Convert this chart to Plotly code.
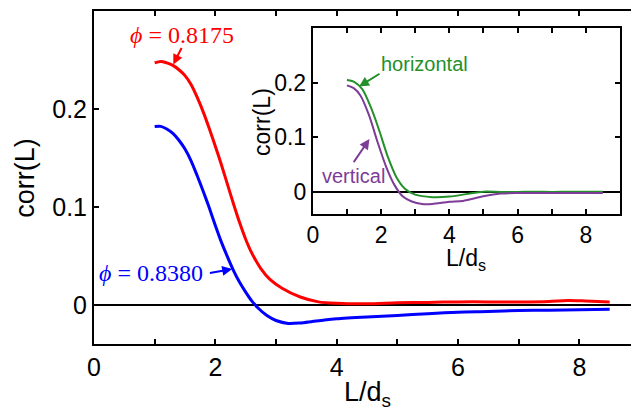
import plotly.graph_objects as go

# ---- main panel data ----
red_x = [1.0, 1.1, 1.2, 1.3, 1.4, 1.5, 1.6, 1.7, 1.8, 1.9, 2.0, 2.1, 2.2, 2.3, 2.4, 2.5, 2.6, 2.75, 2.9,
         3.1, 3.4, 3.7, 4.0, 4.5, 5.0, 5.5, 6.0, 6.5, 7.0, 7.5, 7.8, 8.1, 8.5]
red_y = [0.247, 0.2485, 0.247, 0.2445, 0.240, 0.234, 0.225, 0.212, 0.197, 0.180, 0.162, 0.143, 0.123,
         0.103, 0.084, 0.067, 0.053, 0.037, 0.026, 0.017, 0.008, 0.003, 0.0015, 0.001, 0.002, 0.0025,
         0.003, 0.003, 0.003, 0.0035, 0.0045, 0.004, 0.003]

blue_x = [1.0, 1.1, 1.2, 1.3, 1.4, 1.5, 1.6, 1.7, 1.8, 1.9, 2.0, 2.1, 2.2, 2.3, 2.4, 2.5, 2.6, 2.7, 2.85,
          3.0, 3.2, 3.4, 3.6, 3.8, 4.0, 4.5, 5.0, 5.5, 6.0, 6.5, 7.0, 7.5, 8.0, 8.5]
blue_y = [0.182, 0.1822, 0.1795, 0.175, 0.168, 0.159, 0.147, 0.132, 0.116, 0.099, 0.081, 0.064, 0.049,
          0.035, 0.023, 0.013, 0.004, -0.003, -0.011, -0.016, -0.019, -0.0185, -0.017, -0.0155, -0.0143,
          -0.0125, -0.011, -0.009, -0.0075, -0.0068, -0.0058, -0.0055, -0.005, -0.0045]

# ---- inset data ----
horiz_x = [1.0, 1.2, 1.45, 1.7, 1.95, 2.2, 2.45, 2.7, 3.0, 3.5, 4.0, 4.5, 5.0, 5.5, 6.0, 6.5, 7.0, 7.5, 8.0, 8.5]
horiz_y = [0.205, 0.202, 0.188, 0.155, 0.112, 0.064, 0.027, 0.006, -0.005, -0.0095, -0.0085, -0.004,
           0.0005, 0.0, 0.0, 0.0005, 0.0, 0.0005, 0.0005, 0.0005]

vert_x = [1.0, 1.2, 1.4, 1.65, 1.9, 2.15, 2.4, 2.65, 2.9, 3.2, 3.5, 4.0, 4.4, 5.0, 5.5, 6.0, 7.0, 8.0, 8.5]
vert_y = [0.195, 0.19, 0.176, 0.14, 0.091, 0.046, 0.012, -0.009, -0.0175, -0.022, -0.022, -0.018,
          -0.0165, -0.008, -0.003, -0.002, -0.002, -0.002, -0.002]

x_tickvals = [0, 1, 2, 3, 4, 5, 6, 7, 8, 9]
x_ticktext = ["0", "", "2", "", "4", "", "6", "", "8", ""]
y_tickvals = [0, 0.1, 0.2]
y_ticktext = ["0", "0.1", "0.2"]

SANS = "Liberation Sans"
SERIF = "Liberation Serif"
RED = "#ff0000"
BLUE = "#0000ff"
GREEN = "#23902a"
PURPLE = "#7d3c98"

fig = go.Figure()
fig.add_trace(go.Scatter(x=red_x, y=red_y, mode="lines", xaxis="x", yaxis="y",
                         line=dict(color=RED, width=3, shape="spline", smoothing=0.8)))
fig.add_trace(go.Scatter(x=blue_x, y=blue_y, mode="lines", xaxis="x", yaxis="y",
                         line=dict(color=BLUE, width=3, shape="spline", smoothing=0.8)))
fig.add_trace(go.Scatter(x=horiz_x, y=horiz_y, mode="lines", xaxis="x2", yaxis="y2",
                         line=dict(color=GREEN, width=2, shape="spline", smoothing=0.8)))
fig.add_trace(go.Scatter(x=vert_x, y=vert_y, mode="lines", xaxis="x2", yaxis="y2",
                         line=dict(color=PURPLE, width=2, shape="spline", smoothing=0.8)))

axis_common = dict(showgrid=False, ticks="inside", ticklen=5, tickwidth=1.5, tickcolor="black",
                   showline=True, linewidth=2, linecolor="black", mirror="ticks")
main_font = dict(family=SANS, size=25, color="black")
inset_font = dict(family=SANS, size=23, color="black")

# the page body adds an 8px offset, so the figure size and margins are shifted
fig.update_layout(
    width=635, height=408,
    margin=dict(l=86, r=1, t=1, b=72),
    paper_bgcolor="white", plot_bgcolor="white",
    showlegend=False,
    xaxis=dict(domain=[0, 1], range=[0, 9], tickmode="array", tickvals=x_tickvals, ticktext=x_ticktext,
               zeroline=False, anchor="y", tickfont=main_font, **axis_common),
    yaxis=dict(domain=[0, 1], range=[-0.04, 0.3], tickmode="array", tickvals=y_tickvals, ticktext=y_ticktext,
               zeroline=True, zerolinecolor="black", zerolinewidth=1.5, anchor="x", tickfont=main_font,
               **axis_common),
    xaxis2=dict(domain=[0.4007, 0.9632], range=[0, 9], tickmode="array", tickvals=x_tickvals,
                ticktext=x_ticktext, zeroline=False, anchor="y2", tickfont=inset_font, **axis_common),
    yaxis2=dict(domain=[0.391, 0.949], range=[-0.04, 0.3], tickmode="array", tickvals=y_tickvals,
                ticktext=y_ticktext, zeroline=True, zerolinecolor="black", zerolinewidth=1.5,
                anchor="x2", tickfont=inset_font, **axis_common),
)

ann = []
# axis titles
ann.append(dict(text="corr(L)", xref="paper", yref="paper", x=-0.1268, y=0.4985, textangle=-90,
                showarrow=False, font=dict(family=SANS, size=27, color="black"),
                xanchor="center", yanchor="middle"))
ann.append(dict(text="L/d<sub>s</sub>", xref="paper", yref="paper", x=0.5, y=-0.15,
                showarrow=False, font=dict(family=SANS, size=27, color="black"),
                xanchor="center", yanchor="middle"))
ann.append(dict(text="corr(L)", xref="paper", yref="paper", x=0.3088, y=0.6657, textangle=-90,
                showarrow=False, font=dict(family=SANS, size=23, color="black"),
                xanchor="center", yanchor="middle"))
ann.append(dict(text="L/d<sub>s</sub>", xref="paper", yref="paper", x=0.682, y=0.255,
                showarrow=False, font=dict(family=SANS, size=23, color="black"),
                xanchor="center", yanchor="middle"))
# phi labels
ann.append(dict(text="<i>ϕ</i> = 0.8175", xref="x", yref="y", x=1.448, y=0.276, showarrow=False,
                font=dict(family=SERIF, size=24, color=RED), xanchor="center", yanchor="middle"))
ann.append(dict(text="", xref="x", yref="y", x=1.307, y=0.2455, ax=1.456, ay=0.2638,
                axref="x", ayref="y", showarrow=True, arrowhead=2, arrowsize=1, arrowwidth=2,
                arrowcolor=RED))
ann.append(dict(text="<i>ϕ</i> = 0.8380", xref="x", yref="y", x=0.05, y=0.0329, showarrow=False,
                font=dict(family=SERIF, size=24, color=BLUE), xanchor="left", yanchor="middle"))
ann.append(dict(text="", xref="x", yref="y", x=2.278, y=0.0366, ax=1.886, ay=0.0321,
                axref="x", ayref="y", showarrow=True, arrowhead=2, arrowsize=1, arrowwidth=2,
                arrowcolor=BLUE))
# inset labels
ann.append(dict(text="horizontal", xref="x2", yref="y2", x=3.27, y=0.234, showarrow=False,
                font=dict(family=SANS, size=20, color=GREEN), xanchor="center", yanchor="middle"))
ann.append(dict(text="", xref="x2", yref="y2", x=1.355, y=0.193, ax=2.0, ay=0.218,
                axref="x2", ayref="y2", showarrow=True, arrowhead=2, arrowsize=1, arrowwidth=2,
                arrowcolor=GREEN))
ann.append(dict(text="vertical", xref="x2", yref="y2", x=1.18, y=0.0288, showarrow=False,
                font=dict(family=SANS, size=20, color=PURPLE), xanchor="center", yanchor="middle"))
ann.append(dict(text="", xref="x2", yref="y2", x=1.66, y=0.0967, ax=1.17, ay=0.0517,
                axref="x2", ayref="y2", showarrow=True, arrowhead=2, arrowsize=1, arrowwidth=2,
                arrowcolor=PURPLE))
fig.update_layout(annotations=ann)

fig.write_html("out.html")
